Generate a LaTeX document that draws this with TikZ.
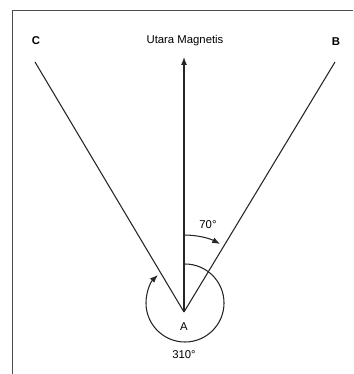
\documentclass[tikz,border=0pt]{standalone}
\usepackage{fontspec}
\setmainfont{Liberation Sans}
\usetikzlibrary{arrows.meta,calc}

\begin{document}
\begin{tikzpicture}[x=0.75pt,y=0.75pt,
    line/.style={line width=0.8pt,black!85},
    lbl/.style={font=\fontsize{8.5}{10}\selectfont,inner sep=1pt},
    tip/.style={-{Latex[length=6pt,width=4.5pt]}}]
  \useasboundingbox (0,0) rectangle (353,374);
  %% frame
  \draw[line width=1.1pt,black!70](12.5,363.5)--(353,363.5);
  \draw[line width=1.1pt,black!70](12.5,363.5)--(12.5,0);
  %% points
  \coordinate (A) at (184,62);
  \coordinate (N) at (184,317);
  \coordinate (Cend) at (35,312);
  \coordinate (Bend) at (335,312);
  \node[lbl] (Alab) at (184,47){A};
  \node[lbl,font=\fontsize{8.5}{10}\selectfont\bfseries] (Clab) at (36,333){C};
  \node[lbl,font=\fontsize{8.5}{10}\selectfont\bfseries] (Blab) at (336,332){B};
  \node[lbl] (Ulab) at (185,333){Utara Magnetis};
  %% lines
  \draw[line](A)--(Cend);
  \draw[line](A)--(Bend);
  \draw[line,tip](A)--(N);
  %% bearing 70
  \draw[line,tip](184,139) arc[start angle=90,end angle=62,radius=77];
  \node[lbl] (b70) at (208,149){70°};
  %% bearing 310
  \draw[line,tip](185,110) arc[start angle=90,end angle=-226,radius=39];
  \node[lbl] (b310) at (184,19){310°};
\end{tikzpicture}
\end{document}
